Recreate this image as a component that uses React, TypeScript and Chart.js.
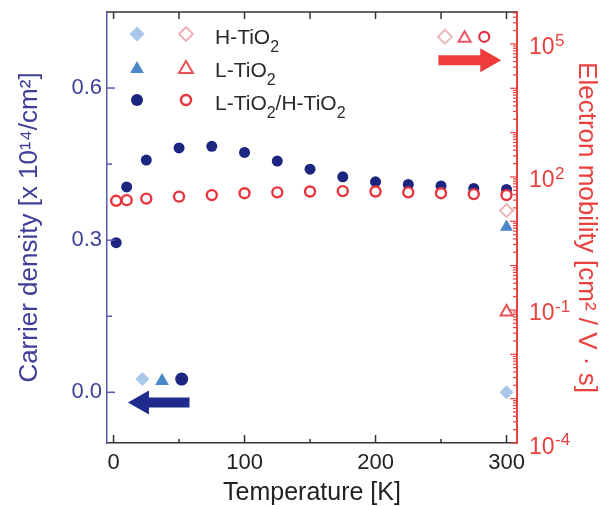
import { useEffect, useRef } from 'react';
import { Chart, registerables } from 'chart.js';

Chart.register(...registerables);

const FONT = "'Liberation Sans', Arial, Helvetica, sans-serif";

// ---- data ----
const temperatures = [2, 10, 25, 50, 75, 100, 125, 150, 175, 200, 225, 250, 275, 300];
const densityLH = [0.295, 0.405, 0.458, 0.482, 0.485, 0.473, 0.456, 0.44, 0.425, 0.415, 0.41, 0.407, 0.402, 0.4];
const mobilityLH = [29, 30, 32.5, 36, 39, 43, 45, 47, 48, 47, 45, 43, 41, 39];
const singleTemperature = [300];
const densityH = [0.0];
const mobilityH = [17.5];
const densityL = [0.326];
const mobilityL = [0.09];

// ---- ticks ----
const xTickValues = [0, 100, 200, 300];
const xMinorValues = [50, 150, 250];
const yTickValues = [0, 0.3, 0.6];
const yMinorValues = [0.15, 0.45];
const y1TickValues = [1e-4, 1e-1, 1e2, 1e5];

// ---- annotation keys (data units) ----
const mobilityKeyT = [253, 268, 283];
const mobilityKeyValue = 1.45e5;
const densityKeyT = [22, 37, 52];
const densityKeyValue = 0.026;
const rightArrowT = [248, 296];
const rightArrowValue = 4.3e4;
const leftArrowT = [58, 11];
const leftArrowValue = -0.02;

const legendLabels: [string, boolean][][] = [
  [['H-TiO', false], ['2', true]],
  [['L-TiO', false], ['2', true]],
  [['L-TiO', false], ['2', true], ['/H-TiO', false], ['2', true]],
];

const C = {
  navy: '#1c2580',
  red: '#e8343c',
  lightBlue: '#a9c7ea',
  steel: '#4c87c9',
  pink: '#f0aeb0',
  redTri: '#ea5356',
  leftAxis: '#5a5ab0',
  leftText: '#3f3f98',
  rightText: '#e8413f',
};

function shape(ctx: CanvasRenderingContext2D, kind: string, x: number, y: number, r: number, fill: string | null, stroke: string | null, lw = 2) {
  ctx.beginPath();
  if (kind === 'circle') {
    ctx.arc(x, y, r, 0, Math.PI * 2);
  } else if (kind === 'diamond') {
    ctx.moveTo(x, y - r);
    ctx.lineTo(x + r, y);
    ctx.lineTo(x, y + r);
    ctx.lineTo(x - r, y);
    ctx.closePath();
  } else {
    const s = Math.sin((2 * Math.PI) / 3) * r;
    ctx.moveTo(x, y - r);
    ctx.lineTo(x + s, y + r / 2);
    ctx.lineTo(x - s, y + r / 2);
    ctx.closePath();
  }
  if (fill) {
    ctx.fillStyle = fill;
    ctx.fill();
  }
  if (stroke) {
    ctx.strokeStyle = stroke;
    ctx.lineWidth = lw;
    ctx.stroke();
  }
}

function arrow(ctx: CanvasRenderingContext2D, x0: number, x1: number, y: number, color: string) {
  const dir = Math.sign(x1 - x0);
  const headLen = 21;
  const headHalf = 12;
  const shaftHalf = 5;
  const hb = x1 - dir * headLen;
  ctx.beginPath();
  ctx.moveTo(x0, y - shaftHalf);
  ctx.lineTo(hb, y - shaftHalf);
  ctx.lineTo(hb, y - headHalf);
  ctx.lineTo(x1, y);
  ctx.lineTo(hb, y + headHalf);
  ctx.lineTo(hb, y + shaftHalf);
  ctx.lineTo(x0, y + shaftHalf);
  ctx.closePath();
  ctx.fillStyle = color;
  ctx.fill();
}

function line(ctx: CanvasRenderingContext2D, x0: number, y0: number, x1: number, y1: number) {
  ctx.beginPath();
  ctx.moveTo(x0, y0);
  ctx.lineTo(x1, y1);
  ctx.stroke();
}

const decorPlugin = {
  id: 'decor',
  afterDraw(chart: any) {
    const { ctx, chartArea: a, scales } = chart;
    const x = scales.x;
    const y = scales.y;
    const y1 = scales.y1;
    ctx.save();

    // top frame
    ctx.strokeStyle = '#333';
    ctx.lineWidth = 1.5;
    line(ctx, a.left, a.top, a.right, a.top);

    // x ticks (inward), bottom and top
    [...xTickValues, ...xMinorValues].forEach((v) => {
      const px = x.getPixelForValue(v);
      const major = xTickValues.includes(v);
      line(ctx, px, a.bottom, px, a.bottom - (major ? 8 : 4));
      line(ctx, px, a.top, px, a.top + 7);
    });

    // left ticks
    ctx.strokeStyle = C.leftAxis;
    [...yTickValues, ...yMinorValues].forEach((v) => {
      const py = y.getPixelForValue(v);
      const major = yTickValues.includes(v);
      line(ctx, a.left, py, a.left + (major ? 8 : 5), py);
    });

    // right log ticks
    ctx.strokeStyle = C.rightText;
    ctx.lineWidth = 1.2;
    const yMax = y1.max;
    for (let e = -4; e <= 5; e++) {
      for (let m = 1; m <= 9; m++) {
        const v = m * Math.pow(10, e);
        if (v > yMax * 1.0001) break;
        const py = y1.getPixelForValue(v);
        line(ctx, a.right, py, a.right - (m === 1 ? 7 : 4), py);
      }
    }

    // right tick labels: 10 with superscript exponent
    ctx.fillStyle = C.rightText;
    ctx.textAlign = 'left';
    ctx.textBaseline = 'alphabetic';
    y1TickValues.forEach((v) => {
      const py = y1.getPixelForValue(v);
      const lx = a.right + 12;
      ctx.font = `23px ${FONT}`;
      ctx.fillText('10', lx, py + 10.5);
      const w = ctx.measureText('10').width;
      ctx.font = `17px ${FONT}`;
      ctx.fillText(String(Math.round(Math.log10(v))), lx + w + 0.5, py + 2);
    });

    // keys near arrows
    const mky = y1.getPixelForValue(mobilityKeyValue);
    shape(ctx, 'diamond', x.getPixelForValue(mobilityKeyT[0]), mky, 7, '#fff', '#e6b3b6', 1.8);
    shape(ctx, 'triangle', x.getPixelForValue(mobilityKeyT[1]), mky + 1.5, 7, '#fff', '#e8566a', 2);
    shape(ctx, 'circle', x.getPixelForValue(mobilityKeyT[2]), mky, 5, '#fff', '#e0304a', 2.2);
    arrow(ctx, x.getPixelForValue(rightArrowT[0]), x.getPixelForValue(rightArrowT[1]), y1.getPixelForValue(rightArrowValue), '#ee3b3b');

    const dky = y.getPixelForValue(densityKeyValue);
    shape(ctx, 'diamond', x.getPixelForValue(densityKeyT[0]), dky, 7, C.lightBlue, null);
    shape(ctx, 'triangle', x.getPixelForValue(densityKeyT[1]), dky + 2, 8, C.steel, null);
    shape(ctx, 'circle', x.getPixelForValue(densityKeyT[2]), dky, 6.5, C.navy, null);
    arrow(ctx, x.getPixelForValue(leftArrowT[0]), x.getPixelForValue(leftArrowT[1]), y.getPixelForValue(leftArrowValue), '#1f2b8c');

    // legend
    const c1 = a.left + 30;
    const c2 = a.left + 79;
    const tx = a.left + 108;
    const rows = [a.top + 22, a.top + 55, a.top + 88];
    shape(ctx, 'diamond', c1, rows[0], 7.5, C.lightBlue, null);
    shape(ctx, 'diamond', c2, rows[0], 7, '#fff', C.pink, 1.8);
    shape(ctx, 'triangle', c1, rows[1] + 2, 8, C.steel, null);
    shape(ctx, 'triangle', c2, rows[1] + 2, 8, '#fff', C.redTri, 2);
    shape(ctx, 'circle', c1, rows[2], 6, C.navy, null);
    shape(ctx, 'circle', c2, rows[2], 5, '#fff', C.red, 2.4);

    ctx.fillStyle = '#2a2a2a';
    ctx.textBaseline = 'alphabetic';
    ctx.textAlign = 'left';
    legendLabels.forEach((parts, i) => {
      let cx = tx;
      const base = rows[i] + 10;
      parts.forEach(([t, sub]) => {
        ctx.font = `${sub ? 16 : 21}px ${FONT}`;
        ctx.fillText(t, cx, sub ? base + 8 : base);
        cx += ctx.measureText(t).width;
      });
    });

    ctx.restore();
  },
};

const noPad = (s: any) => {
  s.paddingTop = 0;
  s.paddingBottom = 0;
  s.paddingLeft = 0;
  s.paddingRight = 0;
};

export default function App() {
  const ref = useRef<HTMLCanvasElement | null>(null);

  useEffect(() => {
    if (!ref.current) return;
    Chart.defaults.font.family = FONT;
    const pts = (xs: number[], ys: number[]) => xs.map((t, i) => ({ x: t, y: ys[i] }));

    const chart = new Chart(ref.current, {
      type: 'scatter',
      data: {
        datasets: [
          {
            label: 'L-TiO2/H-TiO2 mobility',
            data: pts(temperatures, mobilityLH),
            yAxisID: 'y1',
            pointStyle: 'circle',
            pointRadius: 5,
            borderWidth: 2.4,
            borderColor: C.red,
            backgroundColor: '#fff',
          },
          {
            label: 'H-TiO2 mobility',
            data: pts(singleTemperature, mobilityH),
            yAxisID: 'y1',
            pointStyle: 'rectRot',
            pointRadius: 6.5,
            borderWidth: 1.8,
            borderColor: C.pink,
            backgroundColor: '#fff',
          },
          {
            label: 'L-TiO2 mobility',
            data: pts(singleTemperature, mobilityL),
            yAxisID: 'y1',
            pointStyle: 'triangle',
            pointRadius: 7,
            borderWidth: 2,
            borderColor: C.redTri,
            backgroundColor: '#fff',
          },
          {
            label: 'L-TiO2/H-TiO2 density',
            data: pts(temperatures, densityLH),
            yAxisID: 'y',
            pointStyle: 'circle',
            pointRadius: 5.5,
            borderWidth: 0,
            backgroundColor: C.navy,
          },
          {
            label: 'H-TiO2 density',
            data: pts(singleTemperature, densityH),
            yAxisID: 'y',
            pointStyle: 'rectRot',
            pointRadius: 7,
            borderWidth: 0,
            backgroundColor: C.lightBlue,
          },
          {
            label: 'L-TiO2 density',
            data: pts(singleTemperature, densityL),
            yAxisID: 'y',
            pointStyle: 'triangle',
            pointRadius: 7.5,
            borderWidth: 0,
            backgroundColor: C.steel,
          },
        ],
      },
      options: {
        responsive: false,
        animation: false,
        layout: { padding: { top: 12, left: 0, right: 0, bottom: 0 } },
        plugins: { legend: { display: false }, tooltip: { enabled: false } },
        scales: {
          x: {
            type: 'linear',
            position: 'bottom',
            min: -5,
            max: 308,
            afterBuildTicks: (s: any) => {
              s.ticks = xTickValues.map((value) => ({ value }));
            },
            afterFit: (s: any) => {
              noPad(s);
              s.height = 63;
            },
            grid: { display: false, drawTicks: false },
            border: { display: true, color: '#333', width: 1.5 },
            ticks: {
              autoSkip: false,
              maxRotation: 0,
              padding: 7,
              color: '#222',
              font: { size: 22 },
              callback: (v: any) => String(v),
            },
            title: {
              display: true,
              text: 'Temperature [K]',
              color: '#222',
              font: { size: 25, lineHeight: 1 },
              padding: { top: 0, bottom: 0 },
            },
          },
          y: {
            type: 'linear',
            position: 'left',
            min: -0.1,
            max: 0.75,
            afterBuildTicks: (s: any) => {
              s.ticks = yTickValues.map((value) => ({ value }));
            },
            afterFit: (s: any) => {
              noPad(s);
              s.width = 107;
            },
            grid: { display: false, drawTicks: false },
            border: { display: true, color: C.leftAxis, width: 1.5 },
            ticks: {
              autoSkip: false,
              padding: 5,
              color: C.leftText,
              font: { size: 22 },
              callback: (v: any) => Number(v).toFixed(1),
            },
            title: {
              display: true,
              text: 'Carrier density [x 10¹⁴/cm²]',
              color: C.leftText,
              font: { size: 26, lineHeight: 1.2 },
              padding: { top: 14, bottom: 0 },
            },
          },
          y1: {
            type: 'logarithmic',
            position: 'right',
            min: 1e-4,
            max: 5.25e5,
            afterBuildTicks: (s: any) => {
              s.ticks = y1TickValues.map((value) => ({ value }));
            },
            afterFit: (s: any) => {
              noPad(s);
              s.width = 86;
            },
            grid: { display: false, drawTicks: false },
            border: { display: true, color: C.rightText, width: 2 },
            ticks: {
              autoSkip: false,
              padding: 12,
              color: 'rgba(0,0,0,0)',
              font: { size: 23 },
              callback: () => '',
            },
            title: {
              display: true,
              text: 'Electron mobility [cm² / V · s]',
              color: C.rightText,
              font: { size: 26, lineHeight: 1.2 },
              padding: { top: 1, bottom: 0 },
            },
          },
        },
      },
      plugins: [decorPlugin],
    } as any);

    return () => chart.destroy();
  }, []);

  return (
    <div style={{ position: 'absolute', left: 0, top: 0, width: 603, height: 506, background: '#fff' }}>
      <canvas ref={ref} width={603} height={506} style={{ display: 'block' }} />
    </div>
  );
}
